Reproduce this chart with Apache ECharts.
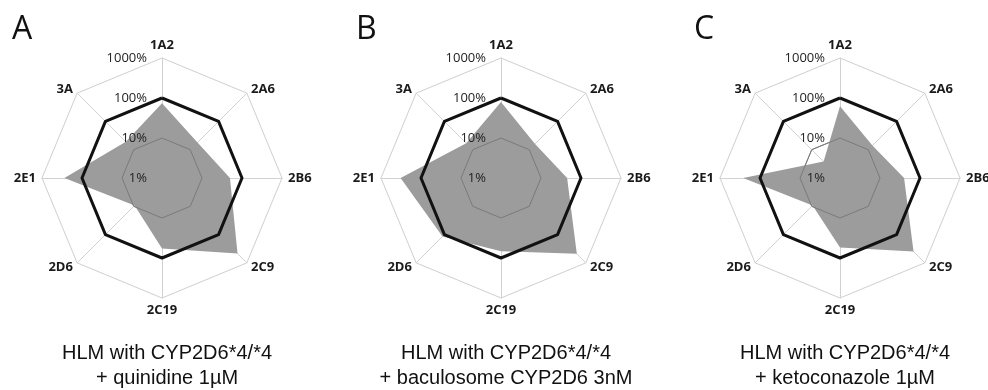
<!DOCTYPE html>
<html><head><meta charset="utf-8">
<script src="https://cdn.jsdelivr.net/npm/echarts@6/dist/echarts.min.js"></script>
<style>html,body{margin:0;padding:0;background:#fff}#c{width:988px;height:390px}</style>
</head><body><div id="c"></div>
<script>
// Categories listed clockwise from the top
const categories = ['1A2', '2A6', '2B6', '2C9', '2C19', '2D6', '2E1', '3A'];
const tickLabels = ['1%', '10%', '100%', '1000%'];
const panelLetters = ['A', 'B', 'C'];
const headline = 'HLM with CYP2D6*4/*4';
const conditions = ['+ quinidine 1\u00b5M', '+ baculosome CYP2D6 3nM', '+ ketoconazole 1\u00b5M'];
// Activity in % of control (log scale)
const valuesA = [74, 18, 50, 468, 58, 9.3, 275, 19];
const valuesB = [79, 16, 45, 479, 68, 117, 324, 17];
const valuesC = [62, 14, 40, 398, 55, 9.3, 263, 3.8];
const reference = [100, 100, 100, 100, 100, 100, 100, 100];

const panels = [valuesA, valuesB, valuesC];
const centersX = [162, 501, 840];
const letterLeft = [7, 351, 689];
const centerY = 178;

// ECharts lays indicators out counter-clockwise: reorder so they read clockwise
const order = [0, 7, 6, 5, 4, 3, 2, 1];
const toLog = v => Math.log10(v);
const CLEAR = 'rgba(0,0,0,0)';

const radars = [];
centersX.forEach((cx, i) => {
  // base grid (below the filled area)
  radars.push({
    z: 0,
    center: [cx, centerY], radius: 120, startAngle: 90, shape: 'polygon', splitNumber: 3,
    indicator: order.map(k => ({ name: categories[k], min: 0, max: 3 })),
    axisName: { color: '#1a1a1a', fontSize: 13, fontWeight: 'bold', fontFamily: 'Open Sans' },
    nameGap: 6,
    axisLine: { lineStyle: { color: '#d2d2d2', width: 1 } },
    axisTick: { show: false },
    axisLabel: { show: false },
    splitLine: { lineStyle: { color: ['#888', '#888', '#cfcfcf', '#cfcfcf'], width: 1 } },
    splitArea: { show: false }
  });
});
centersX.forEach((cx, i) => {
  // overlay: inner ring and tick labels drawn above the filled area
  radars.push({
    z: 3,
    center: [cx, centerY], radius: 120, startAngle: 90, shape: 'polygon', splitNumber: 3,
    indicator: order.map((k, j) => {
      const ind = { name: '', min: 0, max: 3 };
      if (j === 0) {
        ind.axisLabel = {
          show: true,
          formatter: v => tickLabels[Math.round(v)] || '',
          color: '#222', fontSize: 13, fontFamily: 'Open Sans', margin: 15
        };
      }
      return ind;
    }),
    axisName: { show: false },
    axisLine: { show: false },
    axisTick: { show: false },
    axisLabel: { show: false },
    splitLine: { lineStyle: { color: ['#7a7a7a', '#7a7a7a', CLEAR, CLEAR], width: 1 } },
    splitArea: { show: false }
  });
});

const series = [];
panels.forEach((vals, i) => {
  series.push({
    type: 'radar', radarIndex: i, symbol: 'none', silent: true, z: 2,
    data: [{ value: order.map(k => toLog(vals[k])), lineStyle: { width: 0 },
      areaStyle: { color: '#9c9c9c', opacity: 1 } }]
  });
  series.push({
    type: 'radar', radarIndex: i, symbol: 'none', silent: true, z: 5,
    data: [{ value: order.map(k => toLog(reference[k])), lineStyle: { color: '#111', width: 3 } }]
  });
});

const titles = [];
centersX.forEach((cx, i) => {
  titles.push({ text: panelLetters[i], left: letterLeft[i], top: 9,
    textStyle: { fontSize: 32, fontWeight: 'normal', color: '#111', fontFamily: 'Open Sans' } });
  titles.push({ text: headline + '\n' + conditions[i], left: cx, top: 336, textAlign: 'center',
    textStyle: { fontSize: 20, fontWeight: 'normal', color: '#111', fontFamily: 'Liberation Sans', lineHeight: 25, align: 'center' } });
});

const chart = echarts.init(document.getElementById('c'), null, { renderer: 'canvas' });
chart.setOption({ animation: false, backgroundColor: '#fff', title: titles, radar: radars, series: series });
</script></body></html>
